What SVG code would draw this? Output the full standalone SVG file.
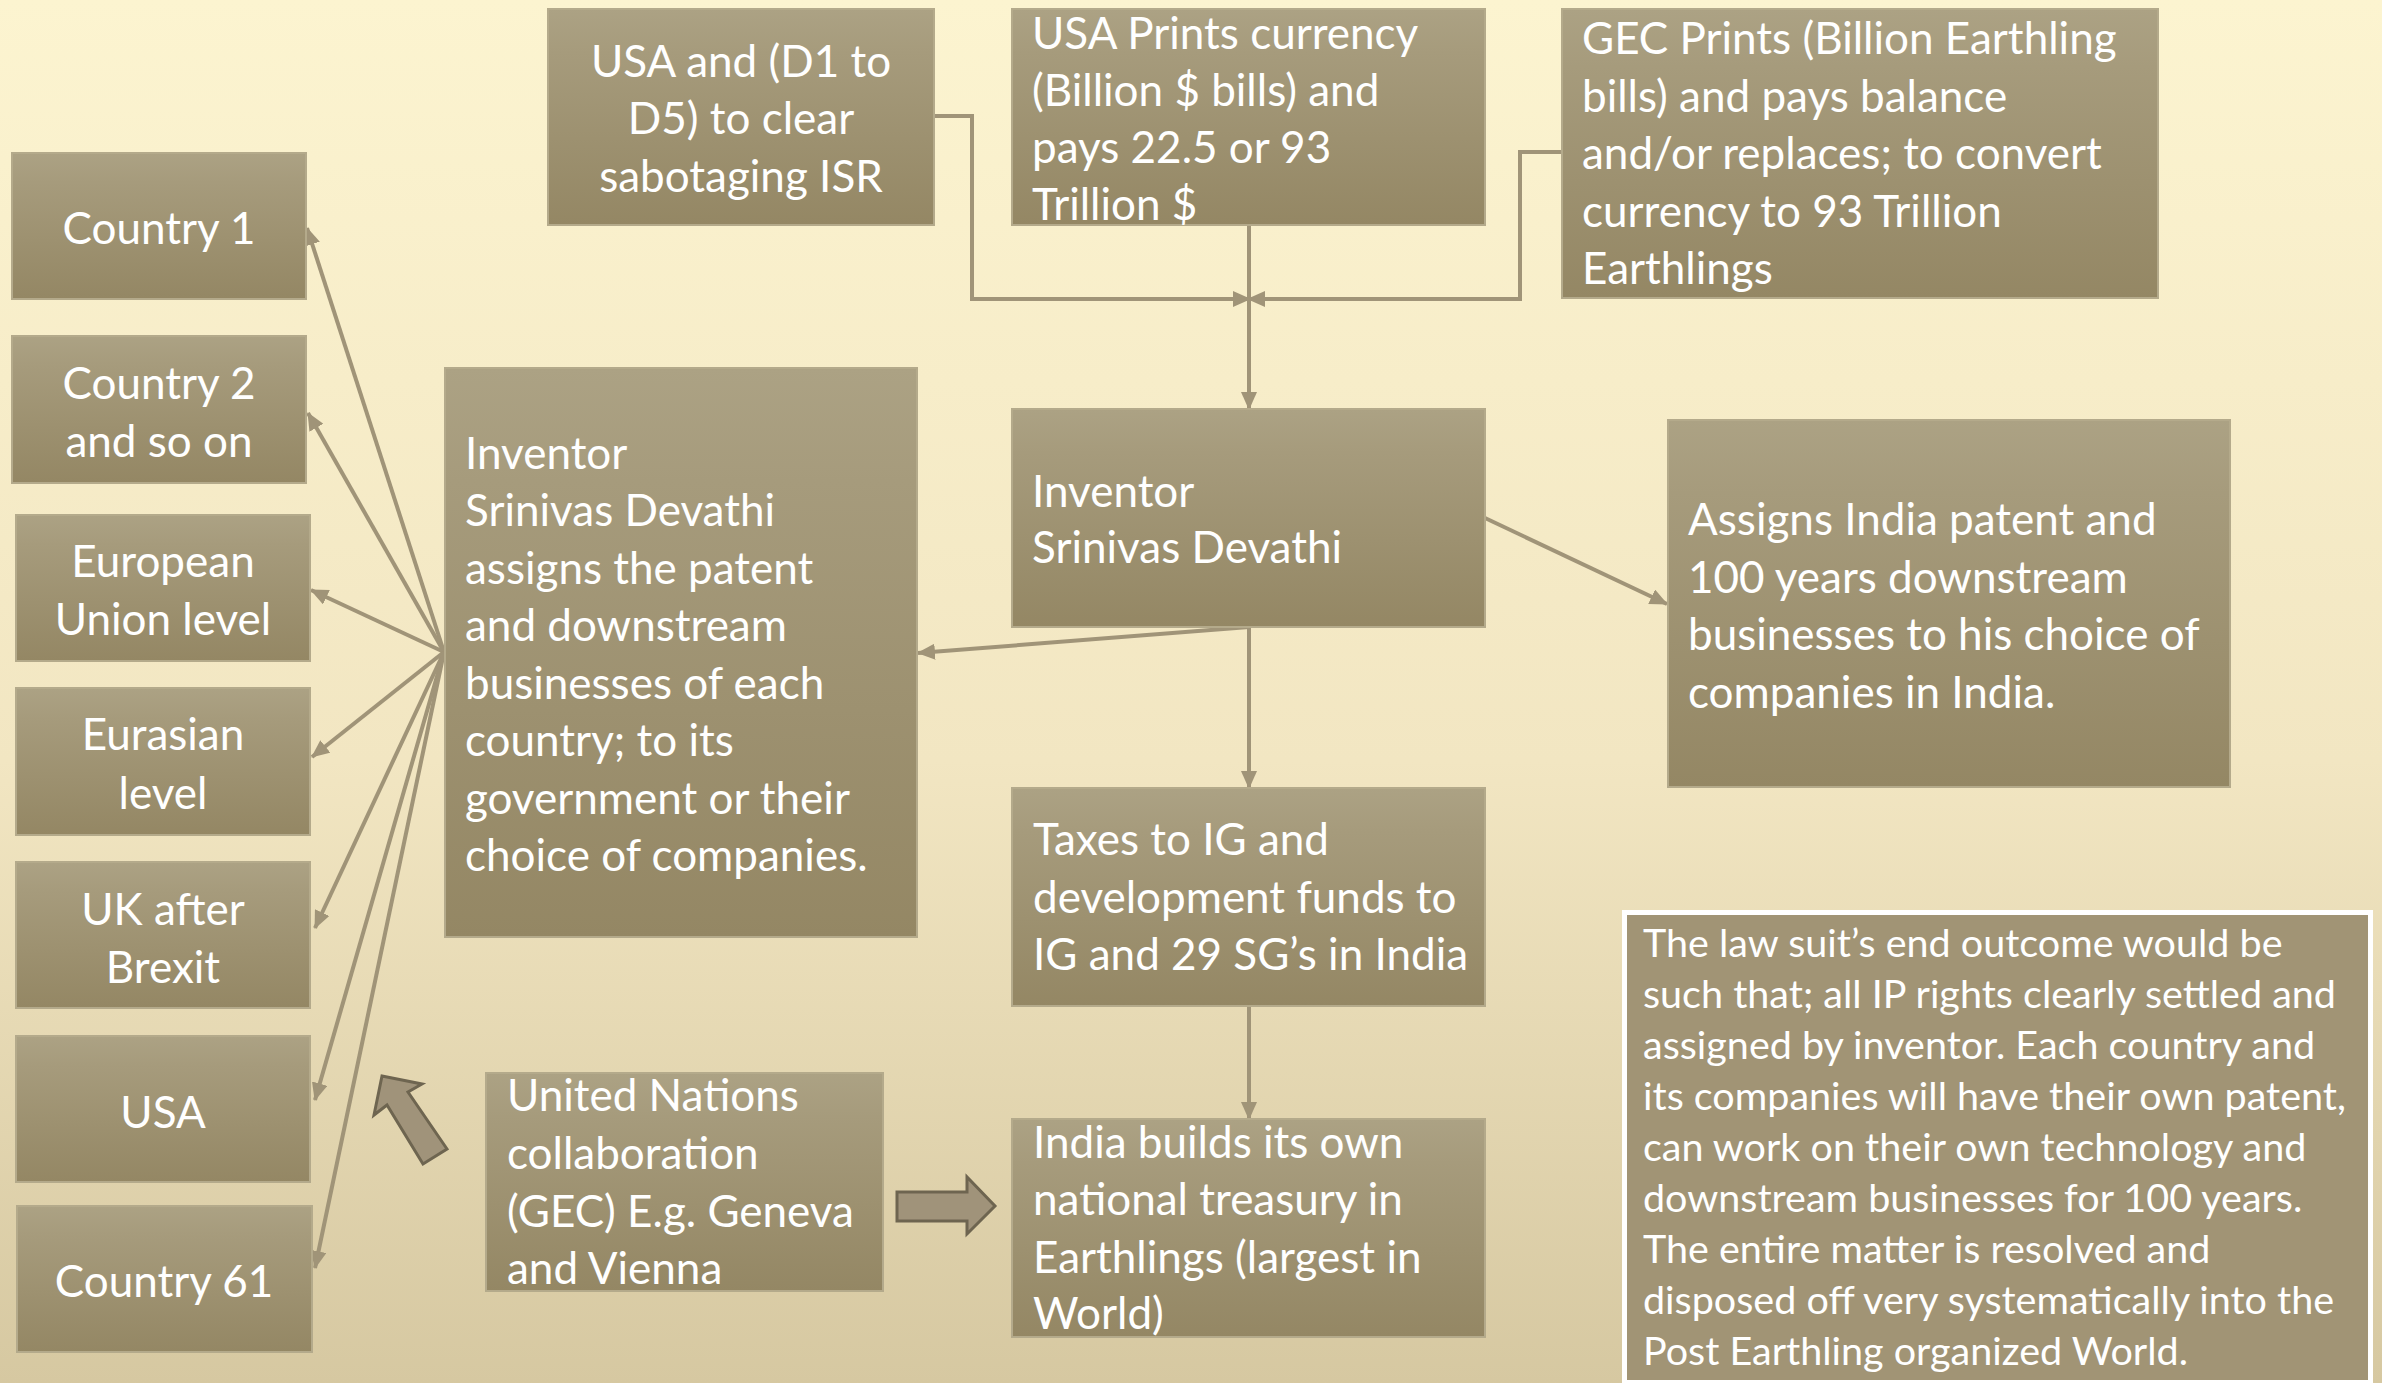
<svg xmlns="http://www.w3.org/2000/svg" width="2382" height="1383" viewBox="0 0 2382 1383">
<defs>
<linearGradient id="bg" x1="0" y1="0" x2="0" y2="1">
<stop offset="0" stop-color="#FCF4D0"/>
<stop offset="0.55" stop-color="#F2E6C2"/>
<stop offset="1" stop-color="#D6C8A1"/>
</linearGradient>
<linearGradient id="nf" x1="0" y1="0" x2="0" y2="1">
<stop offset="0" stop-color="#ACA284"/>
<stop offset="0.2" stop-color="#A69B7C"/>
<stop offset="1" stop-color="#948764"/>
</linearGradient>
<marker id="ah" viewBox="0 0 18 16" refX="17" refY="8" markerWidth="18" markerHeight="16" markerUnits="userSpaceOnUse" orient="auto">
<path d="M0,0 L18,8 L0,16 Z" fill="#A09478"/>
</marker>
<style>
.n{fill:url(#nf);stroke:#B4AA8B;stroke-width:2}
.t{font-family:Lato,"Open Sans","Liberation Sans",sans-serif;fill:#FFFFFF;font-size:44px}
.c{text-anchor:middle}
.s{font-size:39.5px}
.e{fill:none;stroke:#A09478;stroke-width:4;marker-end:url(#ah)}
.b{fill:#A0937A;stroke:#6E6550;stroke-width:3;stroke-linejoin:miter}
</style>
</defs>
<rect width="2382" height="1383" fill="url(#bg)"/>

<g id="connectors">
<path class="e" d="M934,116 H972 V299 H1250"/>
<path class="e" d="M1562,152 H1520 V299 H1248"/>
<path class="e" d="M1249,225 V409"/>
<path class="e" d="M1485,518 L1667,604"/>
<path class="e" d="M1249,627 L918,653"/>
<path class="e" d="M1249,627 V788"/>
<path class="e" d="M1249,1006 V1119"/>
<path class="e" d="M444,652 L307,228"/>
<path class="e" d="M444,652 L308,413"/>
<path class="e" d="M444,652 L311,590"/>
<path class="e" d="M444,652 L312,757"/>
<path class="e" d="M444,652 L315,928"/>
<path class="e" d="M444,652 L315,1100"/>
<path class="e" d="M444,652 L315,1268"/>
</g>

<g id="block-arrows">
<path class="b" d="M382,1076 L422,1084 L408,1092 L447,1149 L423,1164 L387,1105 L374,1115 Z"/>
<path class="b" d="M897,1192 H967 V1177 L995,1206 L967,1234 V1221 H897 Z"/>
</g>

<g id="node-usa-d1">
<rect class="n" x="548" y="9" width="386" height="216"/>
<text class="t c" x="741" y="77">USA and (D1 to</text>
<text class="t c" x="741" y="134">D5) to clear</text>
<text class="t c" x="741" y="192">sabotaging ISR</text>
</g>

<g id="node-usa-prints">
<rect class="n" x="1012" y="9" width="473" height="216"/>
<text class="t" x="1032" y="49">USA Prints currency</text>
<text class="t" x="1032" y="106">(Billion $ bills) and</text>
<text class="t" x="1032" y="163">pays 22.5 or 93</text>
<text class="t" x="1032" y="220">Trillion $</text>
</g>

<g id="node-gec-prints">
<rect class="n" x="1562" y="9" width="596" height="289"/>
<text class="t" x="1582" y="54">GEC Prints (Billion Earthling</text>
<text class="t" x="1582" y="112">bills) and pays balance</text>
<text class="t" x="1582" y="169">and/or replaces; to convert</text>
<text class="t" x="1582" y="227">currency to 93 Trillion</text>
<text class="t" x="1582" y="284">Earthlings</text>
</g>

<g id="node-inventor">
<rect class="n" x="1012" y="409" width="473" height="218"/>
<text class="t" x="1032" y="507">Inventor</text>
<text class="t" x="1032" y="563">Srinivas Devathi</text>
</g>

<g id="node-assigns-india">
<rect class="n" x="1668" y="420" width="562" height="367"/>
<text class="t" x="1688" y="535">Assigns India patent and</text>
<text class="t" x="1688" y="593">100 years downstream</text>
<text class="t" x="1688" y="650">businesses to his choice of</text>
<text class="t" x="1688" y="708">companies in India.</text>
</g>

<g id="node-inventor-assigns">
<rect class="n" x="445" y="368" width="472" height="569"/>
<text class="t" x="465" y="469">Inventor</text>
<text class="t" x="465" y="526">Srinivas Devathi</text>
<text class="t" x="465" y="584">assigns the patent</text>
<text class="t" x="465" y="641">and downstream</text>
<text class="t" x="465" y="699">businesses of each</text>
<text class="t" x="465" y="756">country; to its</text>
<text class="t" x="465" y="814">government or their</text>
<text class="t" x="465" y="871">choice of companies.</text>
</g>

<g id="node-country1">
<rect class="n" x="12" y="153" width="294" height="146"/>
<text class="t c" x="159" y="244">Country 1</text>
</g>

<g id="node-country2">
<rect class="n" x="12" y="336" width="294" height="147"/>
<text class="t c" x="159" y="399">Country 2</text>
<text class="t c" x="159" y="457">and so on</text>
</g>

<g id="node-eu">
<rect class="n" x="16" y="515" width="294" height="146"/>
<text class="t c" x="163" y="577">European</text>
<text class="t c" x="163" y="635">Union level</text>
</g>

<g id="node-eurasian">
<rect class="n" x="16" y="688" width="294" height="147"/>
<text class="t c" x="163" y="750">Eurasian</text>
<text class="t c" x="163" y="809">level</text>
</g>

<g id="node-uk">
<rect class="n" x="16" y="862" width="294" height="146"/>
<text class="t c" x="163" y="925">UK after</text>
<text class="t c" x="163" y="983">Brexit</text>
</g>

<g id="node-usa">
<rect class="n" x="16" y="1036" width="294" height="146"/>
<text class="t c" x="163" y="1128">USA</text>
</g>

<g id="node-country61">
<rect class="n" x="17" y="1206" width="295" height="146"/>
<text class="t c" x="164" y="1297">Country 61</text>
</g>

<g id="node-un">
<rect class="n" x="486" y="1073" width="397" height="218"/>
<text class="t" x="507" y="1111">United Nations</text>
<text class="t" x="507" y="1169">collaboration</text>
<text class="t" x="507" y="1227">(GEC) E.g. Geneva</text>
<text class="t" x="507" y="1284">and Vienna</text>
</g>

<g id="node-taxes">
<rect class="n" x="1012" y="788" width="473" height="218"/>
<text class="t" x="1033" y="855">Taxes to IG and</text>
<text class="t" x="1033" y="913">development funds to</text>
<text class="t" x="1033" y="970">IG and 29 SG’s in India</text>
</g>

<g id="node-india-builds">
<rect class="n" x="1012" y="1119" width="473" height="218"/>
<text class="t" x="1033" y="1158">India builds its own</text>
<text class="t" x="1033" y="1215">national treasury in</text>
<text class="t" x="1033" y="1273">Earthlings (largest in</text>
<text class="t" x="1033" y="1329">World)</text>
</g>

<g id="node-lawsuit">
<rect x="1624.5" y="912.5" width="746" height="470" fill="#A19475" stroke="#FFFFFF" stroke-width="5"/>
<text class="t s" x="1643" y="957">The law suit’s end outcome would be</text>
<text class="t s" x="1643" y="1008">such that; all IP rights clearly settled and</text>
<text class="t s" x="1643" y="1059">assigned by inventor. Each country and</text>
<text class="t s" x="1643" y="1110">its companies will have their own patent,</text>
<text class="t s" x="1643" y="1161">can work on their own technology and</text>
<text class="t s" x="1643" y="1212">downstream businesses for 100 years.</text>
<text class="t s" x="1643" y="1263">The entire matter is resolved and</text>
<text class="t s" x="1643" y="1314">disposed off very systematically into the</text>
<text class="t s" x="1643" y="1365">Post Earthling organized World.</text>
</g>
</svg>
